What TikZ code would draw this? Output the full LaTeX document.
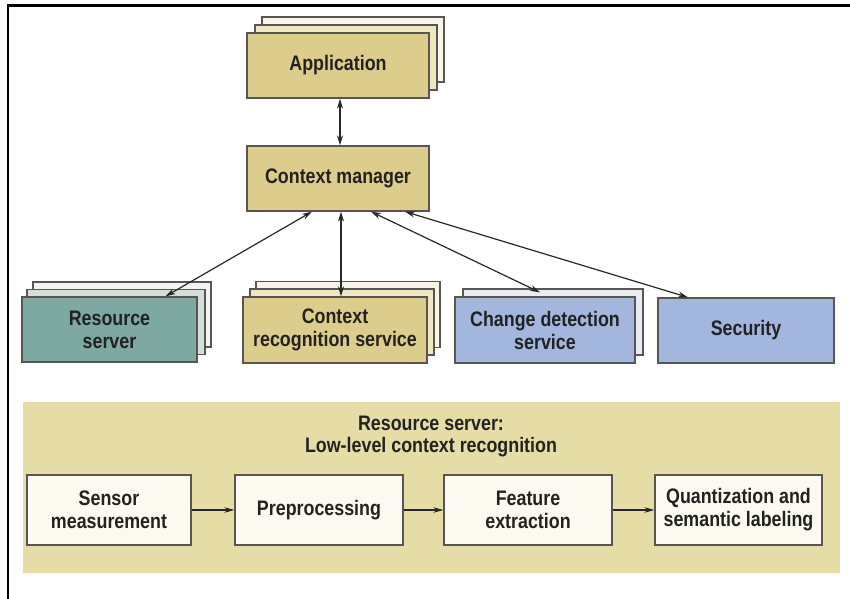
\documentclass[tikz,border=0pt]{standalone}
\usepackage{fontspec}
\setmainfont{Liberation Sans}[FakeStretch=0.85]
\usetikzlibrary{arrows.meta,calc}

\definecolor{ink}{RGB}{34,34,32}
\definecolor{edge}{RGB}{88,86,80}
\definecolor{linec}{RGB}{40,40,40}
\definecolor{khaki}{RGB}{221,205,140}
\definecolor{khakiA}{RGB}{239,230,194}
\definecolor{khakiB}{RGB}{249,246,232}
\definecolor{rsfill}{RGB}{126,168,162}
\definecolor{rsA}{RGB}{214,222,220}
\definecolor{rsB}{RGB}{242,244,244}
\definecolor{bluefill}{RGB}{162,182,222}
\definecolor{blueA}{RGB}{232,236,246}
\definecolor{panelfill}{RGB}{230,220,166}
\definecolor{stepfill}{RGB}{251,249,240}

\begin{document}
\begin{tikzpicture}[x=1bp,y=-1bp,
  lbl/.style={font=\fontsize{21bp}{23bp}\selectfont\bfseries, text=ink, align=center},
  box/.style={lbl, draw=edge, line width=1.3bp, inner sep=0pt, rectangle},
  appbox/.style={box, fill=khaki, minimum width=182bp, minimum height=65bp},
  lowbox/.style={box, minimum width=178bp, minimum height=65bp},
  stepbox/.style={box, fill=stepfill, minimum width=166bp, minimum height=70bp},
  layer/.style={draw=edge, line width=1.1bp, rectangle, inner sep=0pt},
  conn/.style={draw=linec, line width=1.2bp,
    {Stealth[length=10bp,width=6bp]}-{Stealth[length=10bp,width=6bp]}},
  flow/.style={draw=linec, line width=1.2bp, -{Stealth[length=10bp,width=5.5bp]}}]

\useasboundingbox (0,0) rectangle (850,599);
\fill[white] (0,0) rectangle (850,599);

% frame lines along the top and left
\draw[line width=2.2bp, black] (8,599) -- (8,5.5) -- (850,5.5);

% application stack
\node[layer, fill=khakiB, minimum width=182bp, minimum height=65bp] (appL2) at (353,49.5) {};
\node[layer, fill=khakiA, minimum width=182bp, minimum height=65bp] (appL1) at (346,57.5) {};
\node[appbox] (app) at (338,65.5) {Application};

% context manager
\node[appbox] (cm) at (338,178.5) {Context manager};

% resource server stack
\node[layer, fill=rsB, minimum width=178bp, minimum height=65bp] (rsL2) at (122,314.5) {};
\node[layer, fill=rsA, minimum width=178bp, minimum height=65bp] (rsL1) at (116,322) {};
\node[lowbox, fill=rsfill, minimum width=175bp] (rs) at (109.5,329.5) {Resource\\server};

% context recognition stack
\node[layer, fill=khakiB, minimum width=184bp, minimum height=66bp] (crL2) at (348,314.5) {};
\node[layer, fill=khakiA, minimum width=184bp, minimum height=66bp] (crL1) at (342,322) {};
\node[lowbox, fill=khaki, minimum width=184bp, minimum height=66bp] (cr) at (335,330) {Context\\recognition service};

% change detection stack
\node[layer, fill=blueA, minimum width=180bp, minimum height=66bp] (cdL1) at (553,322) {};
\node[lowbox, fill=bluefill, minimum width=180bp, minimum height=66bp] (cd) at (545,330) {Change detection\\service};

% security
\node[lowbox, fill=bluefill, minimum width=176bp] (sec) at (746,330.5) {Security};

% connector anchor points on the context manager
\coordinate (cmRS) at ($(cm.south)+(-26,0)$);
\coordinate (cmCR) at ($(cm.south)+(3,0)$);
\coordinate (cmCD) at ($(cm.south)+(33,0)$);
\coordinate (cmSec) at ($(cm.south)+(67,0)$);

% connectors to the context manager
\draw[conn] ($(app.south)+(2,0)$) -- ($(cm.north)+(2,0)$);
\draw[conn] (cmRS) -- ($(rs.north)+(56,0)$);
\draw[conn] (cmCR) -- (cmCR |- cr.north);
\draw[conn] (cmCD) -- ($(cd.north)+(-5,-4)$);
\draw[conn] (cmSec) -- ($(sec.north)+(-58,0)$);

% low-level recognition panel
\node[fill=panelfill, minimum width=817bp, minimum height=171bp, inner sep=0pt] (panel) at (431.5,487.5) {};
\node[lbl, font=\fontsize{21bp}{22bp}\selectfont\bfseries] (ptitle) at (431,436) {Resource server:\\Low-level context recognition};

\node[stepbox, minimum width=164bp] (sm) at (109,510) {Sensor\\measurement};
\node[stepbox, minimum width=168bp] (pp) at (319,510) {Preprocessing};
\node[stepbox, minimum width=168bp] (fe) at (528,510) {Feature\\extraction};
\node[stepbox, minimum width=167bp] (qs) at (738.5,510) {Quantization and\\semantic labeling};

\draw[flow] (sm) -- (pp);
\draw[flow] (pp) -- (fe);
\draw[flow] (fe) -- (qs);
\end{tikzpicture}
\end{document}
